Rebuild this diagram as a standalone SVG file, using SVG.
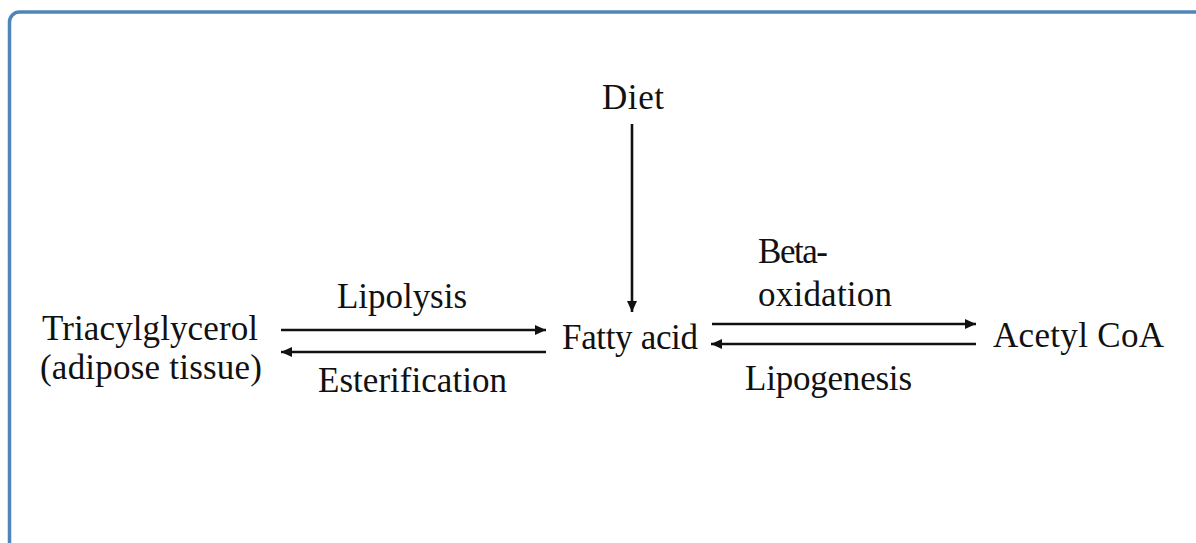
<svg xmlns="http://www.w3.org/2000/svg" width="1196" height="543" viewBox="0 0 1196 543">
<style>
.t{font-family:"Liberation Serif","Times New Roman",serif;font-size:35px;fill:#111}
.c{stroke:#111;stroke-width:2.6;fill:none}
</style>
<defs>
<marker id="ah" viewBox="0 0 11 10" refX="11" refY="5" markerWidth="11" markerHeight="10" markerUnits="userSpaceOnUse" orient="auto">
<path d="M0,0 L11,5 L0,10 Z" fill="#111"/>
</marker>
</defs>
<rect width="1196" height="543" fill="#fff"/>
<rect id="frame" x="9.5" y="12" width="1300" height="700" rx="10" fill="#fff" stroke="#4f86b8" stroke-width="3.5"/>
<g id="connectors">
<line class="c" x1="632" y1="124" x2="632" y2="312" marker-end="url(#ah)"/>
<line class="c" x1="281" y1="330" x2="546" y2="330" marker-end="url(#ah)"/>
<line class="c" x1="546" y1="352" x2="281" y2="352" marker-end="url(#ah)"/>
<line class="c" x1="712" y1="324" x2="976" y2="324" marker-end="url(#ah)"/>
<line class="c" x1="976" y1="344" x2="711" y2="344" marker-end="url(#ah)"/>
</g>
<g id="diet"><text class="t" x="602" y="109" textLength="62">Diet</text></g>
<g id="tag"><text class="t" x="42" y="340" textLength="216">Triacylglycerol</text><text class="t" x="40" y="379" textLength="222">(adipose tissue)</text></g>
<g id="fatty-acid"><text class="t" x="562" y="349" textLength="136">Fatty acid</text></g>
<g id="acetyl-coa"><text class="t" x="993" y="347" textLength="171">Acetyl CoA</text></g>
<g id="lbl-lipolysis"><text class="t" x="337" y="308" textLength="130">Lipolysis</text></g>
<g id="lbl-esterification"><text class="t" x="318" y="392" textLength="189">Esterification</text></g>
<g id="lbl-beta"><text class="t" x="758" y="263" textLength="70">Beta-</text><text class="t" x="758" y="306" textLength="134">oxidation</text></g>
<g id="lbl-lipogenesis"><text class="t" x="745" y="390" textLength="167">Lipogenesis</text></g>
</svg>
